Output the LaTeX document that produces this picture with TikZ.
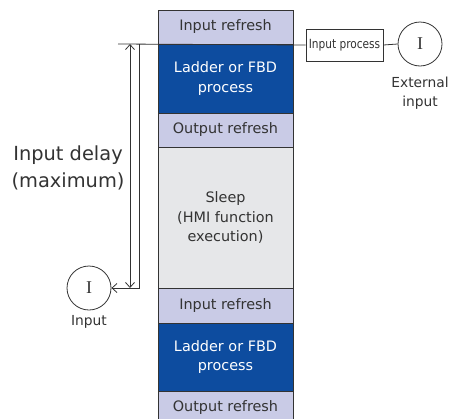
\documentclass[tikz,border=0pt]{standalone}
\usepackage{fontspec}
\setmainfont{DejaVu Sans}
\newfontfamily\romanI{Liberation Serif}
\newfontfamily\narrow[FakeStretch=0.84]{DejaVu Sans}
\usepackage{tikz}
\usetikzlibrary{positioning,arrows.meta}
\definecolor{ink}      {HTML}{333333}
\definecolor{lavender} {HTML}{C9CBE6}
\definecolor{deepblue} {HTML}{0D4C9F}
\definecolor{idlegray} {HTML}{E6E7E9}
\tikzset{
  >={Straight Barb[length=5pt,width=9pt]},
  % --- nodes
  blk/.style     = {draw=ink, line width=0.8pt, minimum width=135pt, inner sep=0pt,
                    outer sep=0pt, align=center, text=ink,
                    font=\fontsize{14.4}{19.5}\selectfont},
  refresh/.style = {blk, fill=lavender},
  logic/.style   = {blk, fill=deepblue, text=white},
  idle/.style    = {blk, fill=idlegray},
  io/.style      = {circle, draw=ink, line width=0.8pt, minimum size=44pt, inner sep=0pt,
                    text=ink, font=\romanI\fontsize{18}{18}\selectfont},
  proc/.style    = {draw=ink, line width=0.8pt, fill=white, minimum width=77pt,
                    minimum height=32pt, inner sep=0pt, text=ink,
                    font=\narrow\fontsize{12.6}{14}\selectfont},
  note/.style    = {text=ink, align=center, font=\fontsize{13.8}{19}\selectfont},
  % --- edges
  e/.style       = {draw=ink, line width=0.8pt},
}
\begin{document}
\begin{tikzpicture}[x=1pt,y=-1pt]
  \useasboundingbox (0,0) rectangle (460,418);
  \clip (0,0) rectangle (460,418);
  % scan column
  \node[refresh, minimum height=34pt] (ir1) at (225.5,27) {Input refresh};
  \node[logic, minimum height=69pt, below=0pt of ir1] (lad1) {Ladder or FBD\\process};
  \node[refresh, minimum height=34pt, below=0pt of lad1] (or1) {Output refresh};
  \node[idle, minimum height=141pt, below=0pt of or1] (slp) {Sleep\\(HMI function\\execution)};
  \node[refresh, minimum height=35pt, below=0pt of slp] (ir2) {Input refresh};
  \node[logic, minimum height=68pt, below=0pt of ir2] (lad2) {Ladder or FBD\\process};
  \node[refresh, minimum height=34pt, below=0pt of lad2] (or2) {Output refresh};
  % external input
  \node[proc] (ip) at (344.5,45) {Input process};
  \node[io] (ext) at (420,44) {I};
  \node[note, below=7pt of ext] (extlbl) {External\\input};
  % input terminal
  \node[io] (inp) at (89,288) {I};
  \node[note, below=2pt of inp] (inplbl) {Input};
  % delay span
  \coordinate (tl) at (118,44);
  \coordinate (a1) at (130,44);
  \coordinate (a2) at (130,288);
  \coordinate (b1) at (139,44);
  \node[text=ink, align=center, anchor=east, font=\fontsize{19.4}{27}\selectfont]
    (dly) at (128,168) {Input delay\\(maximum)};
  \draw[e] (tl) -- (ip.west);
  \draw[e] (ip.east) -- (ext.west);
  \draw[e, <->] (a1) -- (a2);
  \draw[e, ->] (b1) |- (inp.east);
\end{tikzpicture}
\end{document}
